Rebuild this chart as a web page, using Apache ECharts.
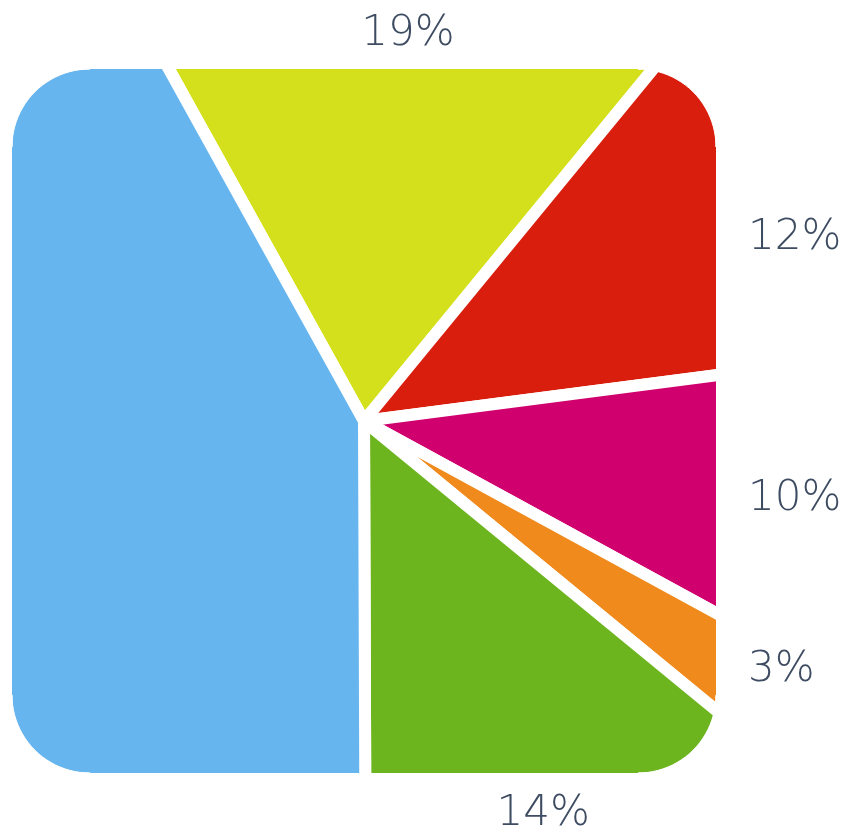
<!DOCTYPE html>
<html>
<head>
<meta charset="utf-8">
<script src="https://cdn.jsdelivr.net/npm/echarts@6/dist/echarts.min.js"></script>
<style>
  html, body { margin: 0; padding: 0; background: #fff; }
  #chart { width: 846px; height: 829px; }
</style>
</head>
<body>
<div id="chart"></div>
<script>
// slice data, clockwise from the top
const sliceNames = ['Yellow', 'Red', 'Magenta', 'Orange', 'Green', 'Blue'];
const sliceValues = [19, 12, 10, 3, 14, 42];
const sliceLabelShown = [true, true, true, true, true, false];
const sliceColors = ['#d5e01c', '#d91e0e', '#d0006f', '#f08a1c', '#6cb51e', '#66b5ee'];

// layout of the rounded square that clips the pie
const cx = 364, cy = 421;
const half = 352;
const corner = 78;
const startAngle = 119;

const chart = echarts.init(document.getElementById('chart'));
const W = chart.getWidth(), H = chart.getHeight();

const x0 = cx - half, x1 = cx + half, y0 = cy - half, y1 = cy + half;

// white mask outside the rounded square: 4 bands + 4 corner pieces
function cornerPiece(px, py, ox, oy, a0) {
    const pts = [[px, py]];
    for (let k = 0; k <= 24; k++) {
        const a = (a0 + k * 90 / 24) * Math.PI / 180;
        pts.push([ox + corner * Math.cos(a), oy + corner * Math.sin(a)]);
    }
    return { type: 'polygon', z: 5, silent: true, shape: { points: pts }, style: { fill: '#fff', stroke: '#fff', lineWidth: 1 } };
}
const maskBand = (x, y, w, h) => ({ type: 'rect', z: 5, silent: true, shape: { x, y, width: w, height: h }, style: { fill: '#fff' } });

const maskGraphics = [
    maskBand(0, 0, W, y0),
    maskBand(0, y1, W, H - y1),
    maskBand(0, 0, x0, H),
    maskBand(x1, 0, W - x1, H),
    cornerPiece(x0, y0, x0 + corner, y0 + corner, 180),
    cornerPiece(x1, y0, x1 - corner, y0 + corner, 270),
    cornerPiece(x1, y1, x1 - corner, y1 - corner, 0),
    cornerPiece(x0, y1, x0 + corner, y1 - corner, 90)
];

const total = sliceValues.reduce((a, b) => a + b, 0);

function midAngle(i) {
    let cum = 0;
    for (let k = 0; k < i; k++) cum += sliceValues[k];
    // degrees clockwise from 12 o'clock
    return (90 - startAngle) + (cum + sliceValues[i] / 2) / total * 360;
}

// put each label just outside the square edge hit by the slice's mid-angle
function placeLabel(params) {
    const a = midAngle(params.dataIndex) * Math.PI / 180;
    const dx = Math.sin(a), dy = -Math.cos(a);
    const tx = Math.abs(dx) > 1e-6 ? half / Math.abs(dx) : Infinity;
    const ty = Math.abs(dy) > 1e-6 ? half / Math.abs(dy) : Infinity;
    const gap = 32;
    if (tx < ty) {
        return {
            x: dx > 0 ? x1 + gap : x0 - gap,
            y: cy + dy * tx + 12,
            align: dx > 0 ? 'left' : 'right',
            verticalAlign: 'middle'
        };
    }
    return {
        x: cx + dx * ty + 12,
        y: dy < 0 ? y0 - gap + 18 : y1 + gap - 12,
        align: 'center',
        verticalAlign: dy < 0 ? 'bottom' : 'top'
    };
}

const pieData = sliceNames.map((n, i) => ({
    name: n,
    value: sliceValues[i],
    itemStyle: { color: sliceColors[i] }
}));

const labelData = sliceNames.map((n, i) => ({
    name: n,
    value: sliceValues[i],
    label: { show: sliceLabelShown[i] }
}));

chart.setOption({
    animation: false,
    backgroundColor: '#fff',
    graphic: maskGraphics,
    series: [
        {
            type: 'pie',
            z: 2,
            center: [cx, cy],
            radius: [0, 520],
            startAngle: startAngle,
            clockwise: true,
            label: { show: false },
            labelLine: { show: false },
            itemStyle: { borderColor: '#fff', borderWidth: 12 },
            data: pieData
        },
        {
            type: 'pie',
            z: 10,
            silent: true,
            center: [cx, cy],
            radius: [0, half],
            startAngle: startAngle,
            clockwise: true,
            itemStyle: { color: 'transparent' },
            label: {
                show: true,
                position: 'outside',
                formatter: '{c}%',
                color: '#3e4c62',
                fontSize: 42,
                fontWeight: 200,
                fontFamily: 'DejaVu Sans',
                overflow: 'none',
                width: 140
            },
            labelLine: { show: false },
            labelLayout: placeLabel,
            data: labelData
        }
    ]
});
</script>
</body>
</html>
